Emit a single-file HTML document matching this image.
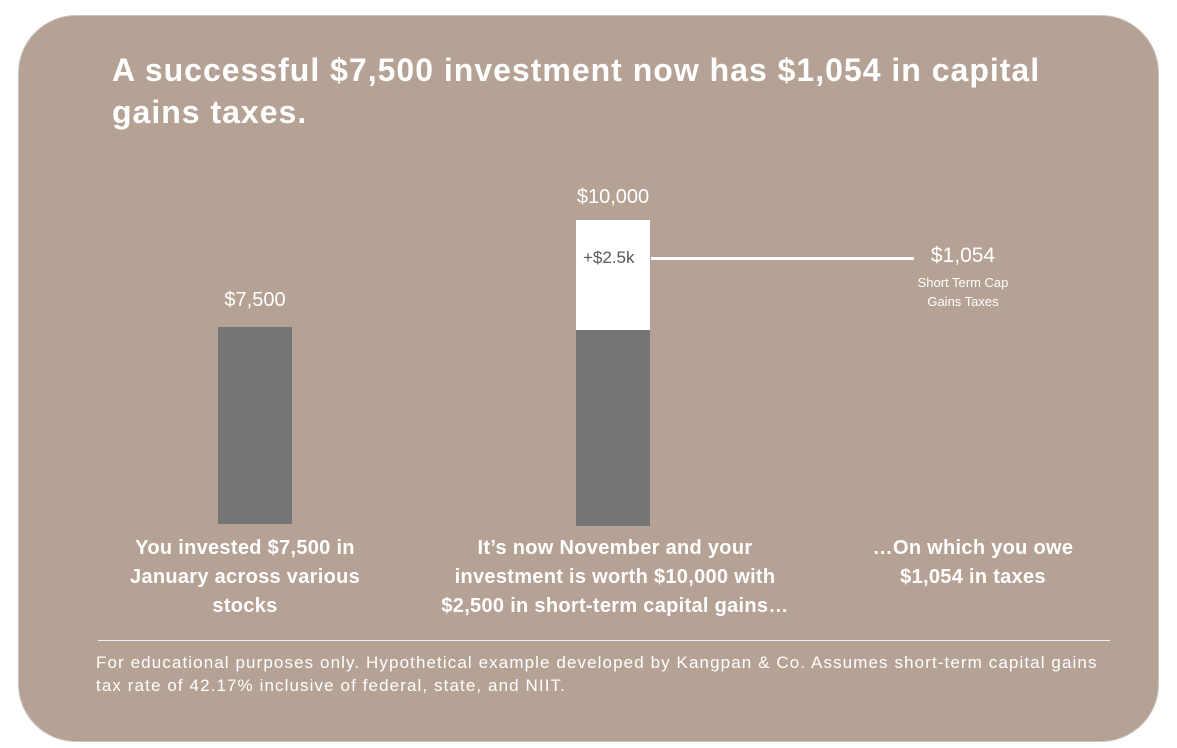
<!DOCTYPE html>
<html><head><style>
body{margin:0;width:1177px;height:748px;background:#fff;position:relative;font-family:"Liberation Sans",sans-serif;overflow:hidden}
.p{position:absolute;left:18px;top:15px;width:1141px;height:727px;background:#b5a295;border:1px solid #c9c4c0;border-radius:58px;box-sizing:border-box}
.t{position:absolute;color:#fff;white-space:nowrap}
.c{text-align:center}
</style></head><body>
<div class="p"></div>
<div class="t" style="left:112px;top:49px;font-size:32px;font-weight:bold;line-height:42px;letter-spacing:1px">A successful $7,500 investment now has $1,054 in capital<br>gains taxes.</div>
<div class="t c" style="left:205px;width:100px;top:289px;font-size:20px">$7,500</div>
<div style="position:absolute;left:218px;top:327px;width:74px;height:197px;background:#757575"></div>
<div class="t c" style="left:558px;width:110px;top:186px;font-size:20px">$10,000</div>
<div style="position:absolute;left:576px;top:220px;width:74px;height:110px;background:#fff"></div>
<div style="position:absolute;left:576px;top:330px;width:74px;height:196px;background:#757575"></div>
<div class="t" style="left:583px;top:248px;font-size:17px;color:#595959">+$2.5k</div>
<div style="position:absolute;left:651px;top:257px;width:263px;height:3px;background:#fff"></div>
<div class="t c" style="left:903px;width:120px;top:244px;font-size:21px">$1,054</div>
<div class="t c" style="left:893px;width:140px;top:273px;font-size:13px;line-height:19px">Short Term Cap<br>Gains Taxes</div>
<div class="t c" style="left:95px;width:300px;top:534px;font-size:20px;font-weight:bold;line-height:29px;letter-spacing:0.3px">You invested $7,500 in<br>January across various<br>stocks</div>
<div class="t c" style="left:440px;width:350px;top:534px;font-size:20px;font-weight:bold;line-height:29px;letter-spacing:0.3px">It’s now November and your<br>investment is worth $10,000 with<br>$2,500 in short-term capital gains…</div>
<div class="t c" style="left:843px;width:260px;top:534px;font-size:20px;font-weight:bold;line-height:29px;letter-spacing:0.3px">…On which you owe<br>$1,054 in taxes</div>
<div style="position:absolute;left:98px;top:640px;width:1012px;height:1px;background:#eee"></div>
<div class="t" style="left:96px;top:651px;font-size:17px;line-height:23px;letter-spacing:1.1px">For educational purposes only. Hypothetical example developed by Kangpan &amp; Co. Assumes short-term capital gains<br>tax rate of 42.17% inclusive of federal, state, and NIIT.</div>
</body></html>
